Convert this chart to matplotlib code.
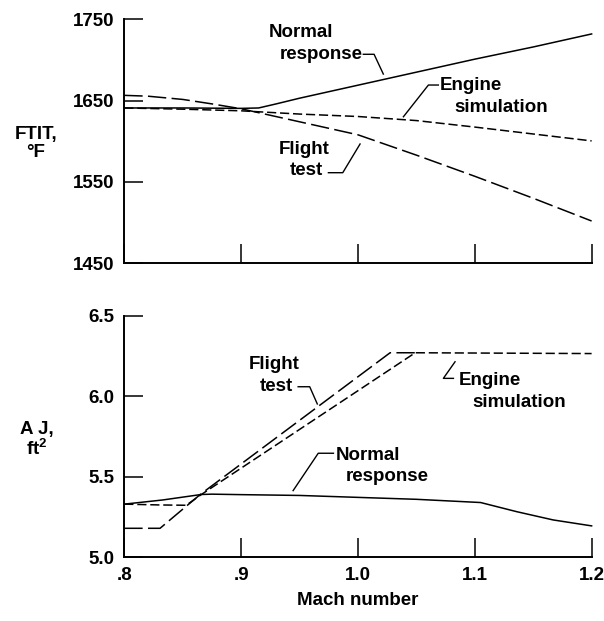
import matplotlib
matplotlib.use("Agg")
import matplotlib.pyplot as plt

plt.rcParams["font.family"] = ["Liberation Sans", "DejaVu Sans"]
plt.rcParams["font.weight"] = "bold"
plt.rcParams["mathtext.fontset"] = "custom"
plt.rcParams["mathtext.rm"] = "Liberation Sans:bold"
plt.rcParams["mathtext.default"] = "rm"

# ---- top panel: FTIT vs Mach ----
mach_ftit_normal = [0.80, 0.85, 0.90, 0.915, 0.93, 0.95, 1.00, 1.05, 1.10, 1.15, 1.20]
ftit_normal      = [1641, 1641, 1640.5, 1641, 1646, 1653, 1669, 1685, 1701, 1716, 1732]

mach_ftit_sim = [0.80, 0.85, 0.90, 0.95, 1.00, 1.05, 1.10, 1.15, 1.20]
ftit_sim      = [1641, 1639.5, 1637.5, 1633.5, 1630.5, 1625.5, 1617.5, 1609, 1600.5]

mach_ftit_flight = [0.80, 0.82, 0.85, 0.875, 0.90, 0.95, 1.00, 1.05, 1.10, 1.15, 1.20]
ftit_flight      = [1656.5, 1655.5, 1651.5, 1646, 1640, 1624, 1608, 1583, 1557, 1530, 1502]

# ---- bottom panel: AJ vs Mach ----
mach_aj_normal = [0.80, 0.833, 0.866, 0.875, 0.90, 0.95, 1.00, 1.05, 1.105, 1.136, 1.167, 1.20]
aj_normal      = [5.33, 5.356, 5.39, 5.392, 5.389, 5.384, 5.372, 5.36, 5.34, 5.283, 5.232, 5.195]

mach_aj_sim = [0.80, 0.83, 0.853, 0.866, 1.049, 1.20]
aj_sim      = [5.33, 5.325, 5.323, 5.39, 6.27, 6.265]

mach_aj_flight = [0.80, 0.8306, 0.865, 1.0275, 1.049]
aj_flight      = [5.18, 5.18, 5.39, 6.27, 6.27]

mach_ticks  = [0.8, 0.9, 1.0, 1.1, 1.2]
mach_labels = [".8", ".9", "1.0", "1.1", "1.2"]
ftit_ticks  = [1450, 1550, 1650, 1750]
aj_ticks    = [5.0, 5.5, 6.0, 6.5]

FS = 13.5
LW = 1.1
dash_sim    = (0, (6, 2.5))
dash_flight = (0, (12, 3.5))

fig = plt.figure(figsize=(6.04, 6.21), dpi=100)
ax1 = fig.add_axes([0.2058, 0.576, 0.7737, 0.3929])
ax2 = fig.add_axes([0.2058, 0.1026, 0.7737, 0.389])

for ax in (ax1, ax2):
    for side in ("top", "right"):
        ax.spines[side].set_visible(False)
    for side in ("left", "bottom"):
        ax.spines[side].set_linewidth(1.4)
    ax.set_xlim(0.8, 1.2)
    ax.set_xticks(mach_ticks)
    ax.tick_params(axis="both", direction="in", length=14, width=1.1,
                   labelsize=FS, pad=7)

ax1.set_ylim(1450, 1750)
ax1.set_yticks(ftit_ticks)
ax1.set_yticklabels([str(t) for t in ftit_ticks])
ax1.tick_params(axis="x", labelbottom=False)

ax2.set_ylim(5.0, 6.5)
ax2.set_yticks(aj_ticks)
ax2.set_yticklabels([f"{t:.1f}" for t in aj_ticks])
ax2.set_xticklabels(mach_labels)

ax1.plot(mach_ftit_normal, ftit_normal, color="black", lw=LW, clip_on=False)
ax1.plot(mach_ftit_sim, ftit_sim, color="black", lw=LW, ls=dash_sim, clip_on=False)
ax1.plot(mach_ftit_flight, ftit_flight, color="black", lw=LW, ls=dash_flight, clip_on=False)

ax2.plot(mach_aj_normal, aj_normal, color="black", lw=LW, clip_on=False)
ax2.plot(mach_aj_sim, aj_sim, color="black", lw=LW, ls=dash_sim, clip_on=False)
ax2.plot(mach_aj_flight, aj_flight, color="black", lw=LW, ls=dash_flight, clip_on=False)

# labels with leader lines (top)
txt = dict(fontsize=FS, fontweight="bold", ha="center", va="center")
ax1.text(0.9516, 1733.8, "Normal", **txt)
ax1.text(0.9682, 1706.7, "response", **txt)
ax1.plot([1.0046, 1.0138, 1.0217], [1707, 1707, 1682.7], color="black", lw=1)

ax1.text(1.0964, 1669.2, "Engine", **txt)
ax1.text(1.1225, 1641.5, "simulation", **txt)
ax1.plot([1.0688, 1.0603, 1.0389], [1669.2, 1669.2, 1630.2], color="black", lw=1)

ax1.text(0.9541, 1589.9, "Flight", **txt)
ax1.text(0.9557, 1564.0, "test", **txt)
ax1.plot([0.9747, 0.987, 1.0018], [1561.4, 1561.4, 1596.7], color="black", lw=1)

# labels with leader lines (bottom)
ax2.text(0.9281, 6.197, "Flight", **txt)
ax2.text(0.9300, 6.060, "test", **txt)
ax2.plot([0.9488, 0.9587, 0.9652], [6.059, 6.059, 5.952], color="black", lw=1)

ax2.text(1.1131, 6.097, "Engine", **txt)
ax2.text(1.1377, 5.961, "simulation", **txt)
ax2.plot([1.0817, 1.0731, 1.0831], [6.111, 6.111, 6.214], color="black", lw=1)

ax2.text(1.0082, 5.635, "Normal", **txt)
ax2.text(1.0253, 5.501, "response", **txt)
ax2.plot([0.979, 0.966, 0.9445], [5.646, 5.646, 5.414], color="black", lw=1)

fig.text(0.0596, 0.769, "FTIT,\n°F", fontsize=FS, fontweight="bold",
         ha="center", va="center", linespacing=1.05)
fig.text(0.0613, 0.2915, "A J,\nft$^2$", fontsize=FS, fontweight="bold",
         ha="center", va="center", linespacing=1.05)
fig.text(0.5927, 0.033, "Mach number", fontsize=FS, fontweight="bold",
         ha="center", va="center")

fig.savefig("out.png", dpi=100)
